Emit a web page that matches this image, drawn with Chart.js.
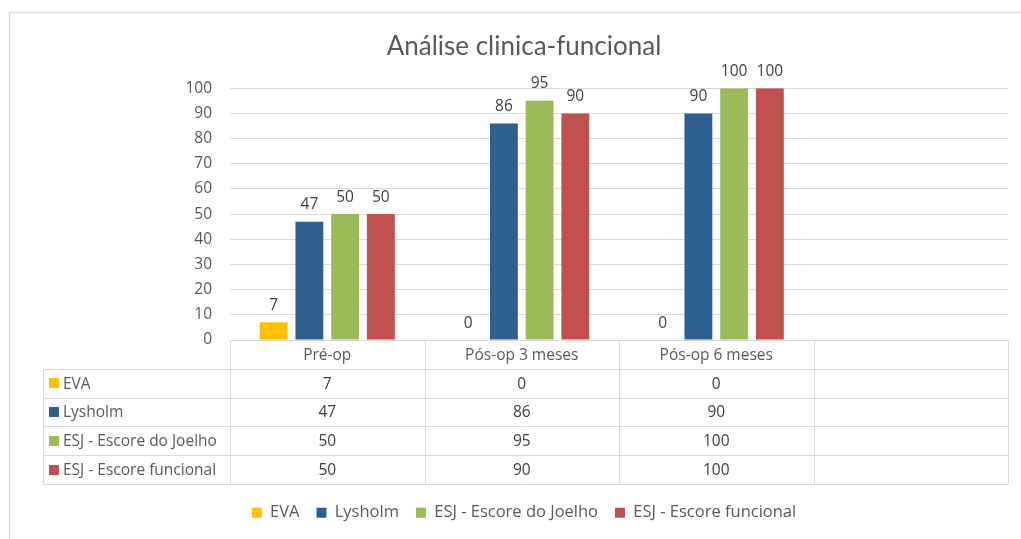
<!DOCTYPE html>
<html>
<head>
<meta charset="utf-8">
<script src="https://cdn.jsdelivr.net/npm/chart.js@4.4.1/dist/chart.umd.min.js"></script>
<style>
  html, body { margin: 0; padding: 0; background: #ffffff; }
  #wrap { width: 1021px; height: 539px; position: relative; }
</style>
</head>
<body>
<div id="wrap"><canvas id="c" width="1021" height="539"></canvas></div>
<script>
const categories = ['Pré-op', 'Pós-op 3 meses', 'Pós-op 6 meses', ''];
const seriesNames = ['EVA', 'Lysholm', 'ESJ - Escore do Joelho', 'ESJ - Escore funcional'];
const eva = [7, 0, 0, null];
const lysholm = [47, 86, 90, null];
const esjJoelho = [50, 95, 100, null];
const esjFuncional = [50, 90, 100, null];
const yMin = 0, yMax = 100, yStep = 10;
const colors = ['#FFC000', '#2F5F8F', '#9BBB59', '#C0504D'];

const seriesValues = [eva, lysholm, esjJoelho, esjFuncional];
const FONT = '"Open Sans", "Noto Sans", sans-serif';
const GRID = '#d9d9d9';
const TEXT = '#595959';
const VALTEXT = '#404040';
const PAD_BOTTOM = 8;
const ROW_H = 28.8;
const TABLE_LEFT = 43;

const framePlugin = {
  id: 'frame',
  beforeDraw(chart) {
    const ctx = chart.ctx;
    ctx.save();
    ctx.strokeStyle = GRID;
    ctx.lineWidth = 1.5;
    ctx.strokeRect(9.5, 12.5, 1200, 700);
    ctx.restore();
  }
};

const labelPlugin = {
  id: 'valueLabels',
  afterDatasetsDraw(chart) {
    const ctx = chart.ctx;
    ctx.save();
    ctx.font = '15.5px ' + FONT;
    ctx.fillStyle = VALTEXT;
    ctx.textAlign = 'center';
    ctx.textBaseline = 'bottom';
    chart.data.datasets.forEach((ds, di) => {
      const meta = chart.getDatasetMeta(di);
      meta.data.forEach((bar, i) => {
        const v = ds.data[i];
        if (v === null || v === undefined) return;
        ctx.fillText(String(v), bar.x, bar.y - 9);
      });
    });
    ctx.restore();
  }
};

const tablePlugin = {
  id: 'dataTable',
  afterDraw(chart) {
    const ctx = chart.ctx;
    const xs = chart.scales.x;
    const area = chart.chartArea;
    const n = categories.length;
    const w = (area.right - area.left) / n;
    const top = area.bottom;
    const rows = seriesNames.length;
    const bottom = top + ROW_H * (rows + 1);
    ctx.save();
    ctx.strokeStyle = GRID;
    ctx.lineWidth = 1;
    const px = v => Math.round(v) + 0.5;
    ctx.beginPath();
    ctx.moveTo(area.left, px(top)); ctx.lineTo(area.right, px(top));
    for (let r = 1; r <= rows + 1; r++) {
      const y = px(top + ROW_H * r);
      ctx.moveTo(TABLE_LEFT, y); ctx.lineTo(area.right, y);
    }
    for (let i = 0; i <= n; i++) {
      const x = px(area.left + w * i);
      ctx.moveTo(x, px(top)); ctx.lineTo(x, px(bottom));
    }
    ctx.moveTo(px(TABLE_LEFT), px(top + ROW_H)); ctx.lineTo(px(TABLE_LEFT), px(bottom));
    ctx.stroke();

    ctx.font = '15.5px ' + FONT;
    ctx.textBaseline = 'middle';
    ctx.textAlign = 'center';
    ctx.fillStyle = TEXT;
    categories.forEach((c, i) => {
      const cx = xs.getPixelForValue(i);
      ctx.fillText(c, cx, top + ROW_H / 2 + 1);
    });
    seriesNames.forEach((name, r) => {
      const cy = top + ROW_H * (r + 1) + ROW_H / 2 + 1;
      ctx.fillStyle = colors[r];
      ctx.fillRect(49, Math.round(cy - 6), 10, 10);
      ctx.fillStyle = TEXT;
      ctx.textAlign = 'left';
      ctx.fillText(name, 63, cy);
      ctx.textAlign = 'center';
      ctx.fillStyle = VALTEXT;
      seriesValues[r].forEach((v, i) => {
        if (v === null || v === undefined) return;
        ctx.fillText(String(v), xs.getPixelForValue(i), cy);
      });
    });
    ctx.restore();
  }
};

const datasets = seriesNames.map((name, i) => ({
  label: name,
  data: seriesValues[i],
  backgroundColor: colors[i],
  borderWidth: 0,
  categoryPercentage: 0.735,
  barPercentage: 0.78
}));

new Chart(document.getElementById('c'), {
  type: 'bar',
  data: { labels: categories, datasets },
  options: {
    responsive: false,
    animation: false,
    devicePixelRatio: 1,
    layout: { padding: { left: 40, right: 13, top: 0, bottom: PAD_BOTTOM } },
    plugins: {
      title: {
        display: true,
        text: 'Análise clinica-funcional',
        color: TEXT,
        font: { family: 'Lato, "Open Sans", sans-serif', size: 26, weight: 'normal' },
        padding: { top: 31, bottom: 26 }
      },
      legend: {
        display: true,
        position: 'bottom',
        labels: {
          boxWidth: 10,
          boxHeight: 10,
          padding: 17,
          color: TEXT,
          font: { family: FONT, size: 16.5 }
        }
      },
      tooltip: { enabled: false }
    },
    scales: {
      x: {
        grid: { display: false },
        border: { display: false },
        ticks: { display: false },
        afterFit(scale) {
          const lh = scale.chart.legend ? scale.chart.legend.height : 43;
          scale.height = 539 - PAD_BOTTOM - lh - 340;
        }
      },
      y: {
        min: yMin,
        max: yMax,
        ticks: {
          stepSize: yStep,
          color: TEXT,
          padding: 18,
          font: { family: FONT, size: 15.5 }
        },
        grid: { color: GRID, lineWidth: 1, drawTicks: false },
        border: { display: false },
        afterFit(scale) { scale.width = 190; }
      }
    }
  },
  plugins: [framePlugin, labelPlugin, tablePlugin]
});
</script>
</body>
</html>
